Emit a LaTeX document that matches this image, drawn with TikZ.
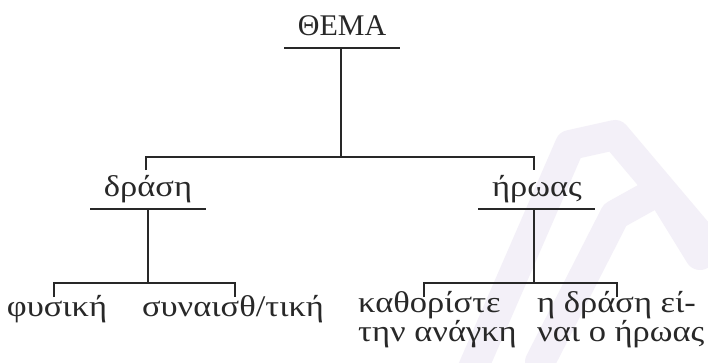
\documentclass[tikz,border=0pt]{standalone}
\usepackage{fontspec}
\setmainfont{Liberation Serif}
\newfontfamily\widegreek[FakeStretch=1.15]{Liberation Serif}
\definecolor{inkgray}{RGB}{40,40,40}
\definecolor{logotint}{RGB}{243,240,248}
\begin{document}
\begin{tikzpicture}[x=1pt,y=-1pt,
  lbl/.style={inner sep=0pt, anchor=base, text=inkgray,
    font=\widegreek\fontsize{30}{25}\selectfont},
  title/.style={lbl, font=\fontsize{30}{25}\selectfont},
  twoline/.style={lbl, align=left, anchor=base west},
  rule/.style={draw=inkgray, line width=1.7pt},
  tree/.style={draw=inkgray, line width=1.7pt, line join=miter},
  logoband/.style={draw=logotint, line width=30pt, line join=round, line cap=round}]
\useasboundingbox (0,0) rectangle (708,362);
\fill[white] (0,0) rectangle (708,362);

% faint publisher mark in the lower right
\draw[logoband] (470,375) -- (570,145) -- (615,135) -- (708,245);
\draw[logoband] (540,362) -- (615,215) -- (660,190) -- (700,255);

% top level
\node[title] (thema) at (342,35) {ΘΕΜΑ};
\coordinate (thL) at (284,48);
\coordinate (thR) at (400,48);
\coordinate (thM) at (341,48);
\coordinate (barM) at (341,157);
\coordinate (barL) at (146,157);
\coordinate (barR) at (534,157);
\coordinate (dropL) at (146,170);
\coordinate (dropR) at (534,170);
\draw[rule] (thL) -- (thR);
\draw[tree] (thM) -- (barM);
\draw[tree] (dropL) -- (barL) -- (barR) -- (dropR);

% second level
\node[lbl] (drasi) at (148,196) {δράση};
\node[lbl] (iroas) at (537,196) {ήρωας};

% left branch
\coordinate (drL) at (90,209);
\coordinate (drR) at (206,209);
\coordinate (drM) at (148,209);
\coordinate (lbM) at (148,283);
\coordinate (lbL) at (54,283);
\coordinate (lbR) at (235,283);
\coordinate (lbLd) at (54,297);
\coordinate (lbRd) at (235,297);
\draw[rule] (drL) -- (drR);
\draw[tree] (drM) -- (lbM);
\draw[tree] (lbLd) -- (lbL) -- (lbR) -- (lbRd);
\node[lbl] (fysiki) at (57,316) {φυσική};
\node[lbl] (synais) at (233,316) {συναισθ/τική};

% right branch
\coordinate (irL) at (478,209);
\coordinate (irR) at (595,209);
\coordinate (irM) at (534,209);
\coordinate (rbM) at (534,283);
\coordinate (rbL) at (424,283);
\coordinate (rbR) at (617,283);
\coordinate (rbLd) at (424,297);
\coordinate (rbRd) at (617,297);
\draw[rule] (irL) -- (irR);
\draw[tree] (irM) -- (rbM);
\draw[tree] (rbLd) -- (rbL) -- (rbR) -- (rbRd);
\node[twoline] (kathor) at (358,341) {καθορίστε\\την ανάγκη};
\node[twoline] (idrasi) at (537,341) {η δράση εί-\\ναι ο ήρωας};
\end{tikzpicture}
\end{document}
